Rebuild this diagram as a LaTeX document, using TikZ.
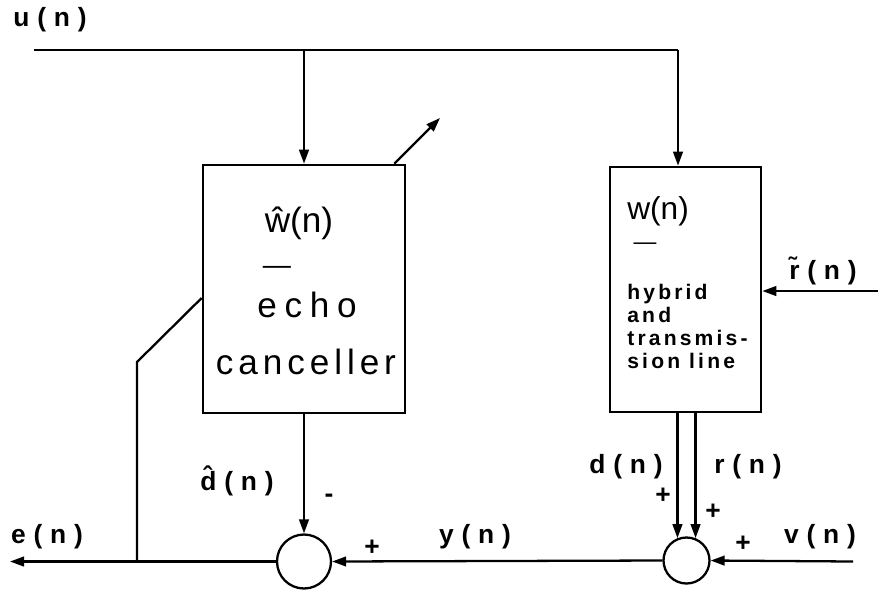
\documentclass[tikz,border=0pt]{standalone}
\usepackage{fontspec}
\setmainfont{Liberation Sans}
\usetikzlibrary{arrows.meta,positioning,calc}
\tikzset{
  blockbox/.style={draw=black, line width=1.5pt, minimum width=#1},
  sumnode/.style={draw=black, circle, line width=1.3pt, inner sep=0pt, minimum size=#1},
  sig/.style={line width=1.3pt},
  sigarrow/.style={-{Triangle[length=8pt,width=5.5pt]}, line width=1.3pt},
  sigtext/.style={font=\fontsize{15}{17}\selectfont\bfseries\addfontfeatures{LetterSpace=2}, inner sep=0pt},
  boxtext/.style={font=\fontsize{20}{22}\selectfont\addfontfeatures{LetterSpace=#1}, inner sep=0pt},
  smalltext/.style={font=\fontsize{12}{13}\selectfont\bfseries\addfontfeatures{LetterSpace=15}, inner sep=0pt, align=left},
}

\begin{document}
\begin{tikzpicture}[x=2cm, y=2cm]
  \useasboundingbox (0,0) rectangle (8.78,5.91);

  % blocks
  \node[blockbox=4.04cm, minimum height=4.96cm] (echo) at (3.04,3.02) {};
  \node[blockbox=3.02cm, minimum height=4.90cm] (hyb)  at (6.855,3.015) {};
  \node[sumnode=1.08cm] (lsum) at (3.04,0.295) {};
  \node[sumnode=0.92cm] (rsum) at (6.865,0.305) {};

  % free ends
  \coordinate (uL)    at (0.34,5.41);
  \coordinate (uR)    at (6.78,5.41);
  \coordinate (adapt) at (4.40,4.73);
  \coordinate (rin)   at (8.78,3.00);
  \coordinate (vin)   at (8.53,0.295);
  \coordinate (eout)  at (0.10,0.295);
  \coordinate (fbend) at (1.37,2.29);

  % text in blocks
  \node[font=\fontsize{20}{22}\selectfont, inner sep=0pt] (wlab) at (2.99,3.68) {\^{w}(n)};
  \node[font=\fontsize{16}{18}\selectfont, inner sep=0pt] (wbar) at (2.77,3.21) {—};
  \node[boxtext=22] (echolab) at (3.07,2.86) {echo};
  \node[boxtext=14] (canclab) at (3.06,2.29) {canceller};
  \node[font=\fontsize{18}{20}\selectfont, inner sep=0pt, anchor=west] (hwlab) at (6.27,3.80) {w(n)};
  \node[font=\fontsize{13}{15}\selectfont, inner sep=0pt] (hbar) at (6.45,3.45) {—};
  \node[smalltext, anchor=west] (hyblab) at (6.27,2.645)
    {hybrid\\and\\transmis-\\sion line};

  % signal labels
  \node[sigtext] (ulab)  at (0.50,5.71) {u ( n )};
  \node[sigtext] (dhlab) at (2.37,1.10) {\^{d} ( n )};
  \node[sigtext] (minus) at (3.29,0.93) {-};
  \node[sigtext] (elab)  at (0.47,0.54) {e ( n )};
  \node[sigtext] (plA)   at (3.72,0.43) {+};
  \node[sigtext] (ylab)  at (4.75,0.54) {y ( n )};
  \node[sigtext] (dlab)  at (6.26,1.24) {d ( n )};
  \node[sigtext] (rlab)  at (7.48,1.24) {r ( n )};
  \node[sigtext] (plB)   at (6.63,0.95) {+};
  \node[sigtext] (plC)   at (7.13,0.79) {+};
  \node[sigtext] (plD)   at (7.43,0.47) {+};
  \node[sigtext] (vlab)  at (8.20,0.54) {v ( n )};
  \node[sigtext] (rtlab) at (8.23,3.20) {\~{r} ( n )};

  % connectors
  \draw[sig] (uL) -- (uR);
  \draw[sigarrow] (echo.north |- uL) -- (echo.north);
  \draw[sigarrow] (uR) -- (uR |- hyb.north);
  \draw[sigarrow] ($(echo.north east)+(-0.12,0)$) -- (adapt);
  \draw[sigarrow] (rin) -- (rin -| hyb.east);
  \draw[sigarrow] (echo.south) -- (lsum.north);
  \draw[sigarrow] (rsum.112 |- hyb.south) -- (rsum.112);
  \draw[sigarrow] (rsum.68 |- hyb.south) -- (rsum.68);
  \draw[sigarrow] (vin) -- (rsum.east);
  \draw[sigarrow] (rsum.west) -- (lsum.east);
  \draw[sigarrow] (lsum.west) -- (eout);
  \draw[sig] (fbend |- lsum) -- (fbend) -- ($(echo.west)+(0,-0.09)$);

\end{tikzpicture}
\end{document}
